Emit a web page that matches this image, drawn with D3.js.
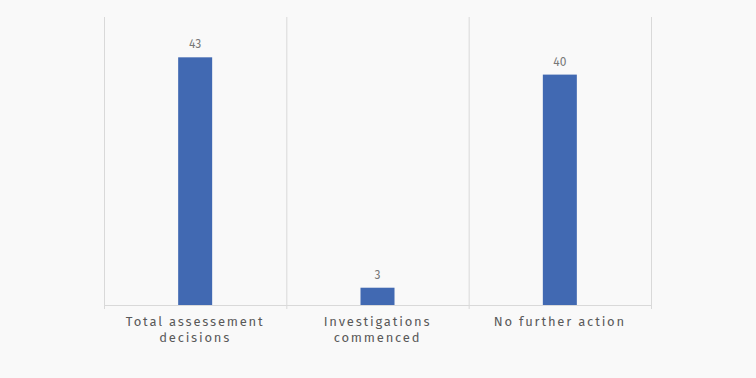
<!DOCTYPE html>
<html>
<head>
<meta charset="utf-8">
<script src="https://cdn.jsdelivr.net/npm/d3@7"></script>
<style>
  html, body { margin: 0; padding: 0; background: #f9f9f9; }
  svg { display: block; font-family: "Fira Sans", "Open Sans", sans-serif; }
</style>
</head>
<body>
<div id="chart"></div>
<script>
const categories = [["Total assessement", "decisions"], ["Investigations", "commenced"], ["No further action"]];
const values = [43, 3, 40];
const yMaxValue = 50;

const width = 756, height = 378;
const margin = {top: 17, right: 105, bottom: 73, left: 104};

const svg = d3.select("#chart").append("svg")
    .attr("width", width)
    .attr("height", height);

const g = svg.append("g").attr("transform", `translate(${margin.left},${margin.top})`);
const innerW = width - margin.left - margin.right;
const innerH = height - margin.top - margin.bottom;

const x = d3.scaleBand().domain(d3.range(categories.length)).range([0, innerW]);
const y = d3.scaleLinear().domain([0, yMaxValue]).range([innerH, 0]);

// vertical gridlines at category boundaries
const bounds = d3.range(categories.length + 1).map(i => i * x.bandwidth());
g.selectAll("line.grid").data(bounds).join("line")
    .attr("class", "grid")
    .attr("x1", d => d + 0.5).attr("x2", d => d + 0.5)
    .attr("y1", 0).attr("y2", innerH + 4)
    .attr("stroke", "#d9d9d9").attr("stroke-width", 1);

// baseline
g.append("line")
    .attr("x1", 0).attr("x2", innerW + 1)
    .attr("y1", innerH + 0.5).attr("y2", innerH + 0.5)
    .attr("stroke", "#d9d9d9");

const barW = 34;
g.selectAll("rect.bar").data(values).join("rect")
    .attr("class", "bar")
    .attr("x", (d, i) => x(i) + x.bandwidth() / 2 - barW / 2)
    .attr("y", d => y(d))
    .attr("width", barW)
    .attr("height", d => innerH - y(d))
    .attr("fill", "#4169b2");

g.selectAll("text.val").data(values).join("text")
    .attr("class", "val")
    .attr("x", (d, i) => x(i) + x.bandwidth() / 2)
    .attr("y", d => y(d) - 9)
    .attr("text-anchor", "middle")
    .attr("fill", "#777")
    .attr("font-size", 12)
    .text(d => d);

const lbl = g.selectAll("text.cat").data(categories).join("text")
    .attr("class", "cat")
    .attr("x", (d, i) => x(i) + x.bandwidth() / 2)
    .attr("y", innerH + 21)
    .attr("text-anchor", "middle")
    .attr("fill", "#595959")
    .attr("font-size", 13)
    .attr("letter-spacing", 1.8);
lbl.selectAll("tspan").data(d => d).join("tspan")
    .attr("x", function() { return d3.select(this.parentNode).attr("x"); })
    .attr("dy", (d, i) => i === 0 ? 0 : 16)
    .text(d => d);
</script>
</body>
</html>
